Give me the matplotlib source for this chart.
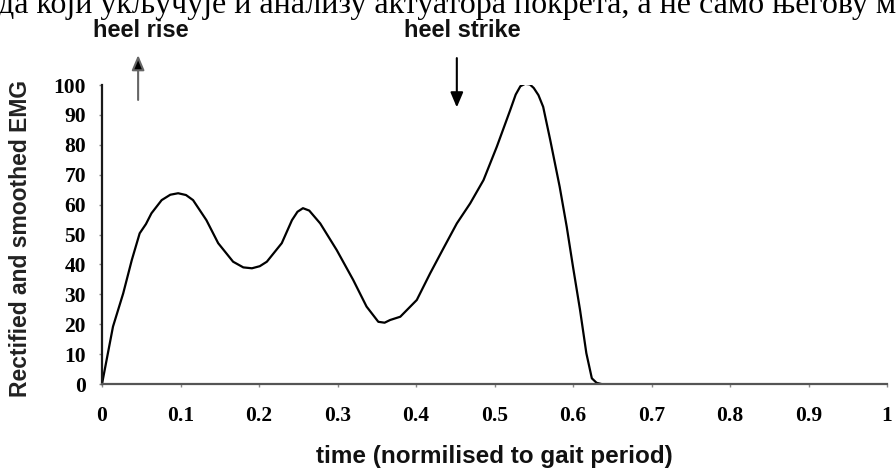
import matplotlib
matplotlib.use("Agg")
import matplotlib.pyplot as plt
from matplotlib.font_manager import FontProperties

# Rectified, smoothed EMG over one normalised gait period
time = [0.000, 0.014, 0.027, 0.038, 0.048, 0.056, 0.063, 0.076, 0.087, 0.097,
        0.107, 0.116, 0.133, 0.148, 0.167, 0.180, 0.191, 0.201, 0.210, 0.229,
        0.242, 0.249, 0.256, 0.264, 0.278, 0.299, 0.320, 0.337, 0.352, 0.360,
        0.367, 0.380, 0.401, 0.418, 0.435, 0.452, 0.469, 0.486, 0.503, 0.520,
        0.527, 0.533, 0.539, 0.545, 0.550, 0.556, 0.562, 0.571, 0.583, 0.592,
        0.600, 0.609, 0.617, 0.624, 0.630, 0.636]
emg = [0.0, 19.2, 30.3, 41.5, 50.4, 53.5, 57.1, 61.5, 63.3, 63.8,
       63.2, 61.5, 54.8, 47.1, 40.9, 39.0, 38.7, 39.4, 40.9, 47.1,
       54.8, 57.6, 58.8, 58.0, 53.7, 44.8, 34.8, 25.9, 20.8, 20.5,
       21.4, 22.5, 28.1, 37.0, 45.4, 53.7, 60.4, 68.2, 79.4, 91.6,
       96.8, 99.6, 100.4, 100.2, 99.0, 96.6, 92.7, 81.6, 66.0, 52.6,
       39.2, 24.7, 10.3, 1.9, 0.4, 0.0]

x_ticks = [0, 0.1, 0.2, 0.3, 0.4, 0.5, 0.6, 0.7, 0.8, 0.9, 1.0]
x_tick_labels = ["0", "0.1", "0.2", "0.3", "0.4", "0.5", "0.6", "0.7", "0.8", "0.9", "1"]
y_ticks = [0, 10, 20, 30, 40, 50, 60, 70, 80, 90, 100]

# Gait events marked above the trace
event_names = ["heel rise", "heel strike"]
event_times = [0.046, 0.452]
event_up = [True, False]

body_line = "да који укључује и анализу актуатора покрета, а не само његову м"

W, H = 896, 471
fig = plt.figure(figsize=(W / 100, H / 100), dpi=100)
ax_w, ax_h = 887 - 102, 384 - 85
ax = fig.add_axes([102 / W, (H - 384) / H, ax_w / W, ax_h / H])

ax.plot(time, emg, color="black", lw=1.6, solid_joinstyle="round")

ax.set_xlim(0, 1.0)
ax.set_ylim(0, 100)
ax.set_xticks(x_ticks)
ax.set_xticklabels(x_tick_labels)
ax.set_yticks(y_ticks)

for s in ("top", "right"):
    ax.spines[s].set_visible(False)
ax.spines["left"].set_color("#1a1a1a")
ax.spines["left"].set_linewidth(1.6)
ax.spines["bottom"].set_color("#555555")
ax.spines["bottom"].set_linewidth(1.6)

tick_fp = FontProperties(family="Liberation Serif", weight="bold", size=15.5)
ax.tick_params(axis="x", direction="out", length=2.5, width=1, color="#888888", pad=13)
ax.tick_params(axis="y", direction="out", length=2.5, width=1, color="#888888", pad=9)
for lab in ax.get_xticklabels() + ax.get_yticklabels():
    lab.set_fontproperties(tick_fp)

ax.set_ylabel("Rectified and smoothed EMG", family="Liberation Sans",
              weight="bold", size=16.5, color="#222222")
ax.yaxis.set_label_coords(-70 / ax_w, 0.485)
ax.set_xlabel("time (normilised to gait period)", family="Liberation Sans",
              weight="bold", size=17.5, color="#111111")
ax.xaxis.set_label_coords(0.5, -61 / ax_h)

# Event arrows and captions
for name, t, up in zip(event_names, event_times, event_up):
    if up:
        tail, head = 95, 110
        shaft = "#666666"
    else:
        tail, head = 109, 92.5
        shaft = "black"
    ax.annotate("", xy=(t, head), xytext=(t, tail), xycoords="data",
                annotation_clip=False,
                arrowprops=dict(arrowstyle="-|>,head_length=0.9,head_width=0.38",
                                color=shaft, lw=1.5, fc="black", ec=shaft,
                                shrinkA=0, shrinkB=0))
    cap_x = t + (0.003 if up else 0.007)
    fig.text((102 + cap_x * ax_w) / W, (H - 37) / H, name, ha="center", va="baseline",
             family="Liberation Sans", weight="bold", size=17, color="#111111")

# Bottom of the preceding line of body text
fig.text(-2 / W, (H - 13) / H, body_line, ha="left", va="baseline",
         family="Liberation Serif", size=23, color="black")

fig.savefig("out.png", dpi=100)
